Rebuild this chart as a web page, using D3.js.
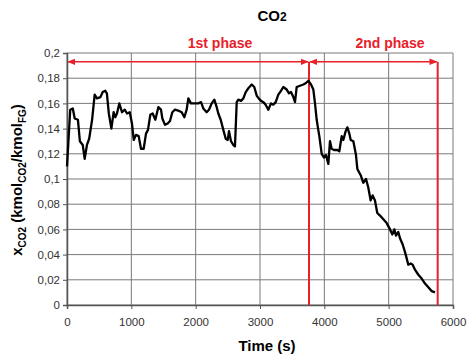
<!DOCTYPE html>
<html>
<head>
<meta charset="utf-8">
<script src="https://cdn.jsdelivr.net/npm/d3@7"></script>
<style>
  body { margin: 0; background: #fff; }
  svg { font-family: "Liberation Sans", Arial, sans-serif; }
</style>
</head>
<body>
<svg id="chart" width="468" height="359"></svg>
<script>
// time (s)
const time = [
  0, 50, 90, 120, 170, 200, 245, 275, 310, 345,
  390, 430, 465, 520, 555, 595, 620, 650, 690, 725,
  750, 777, 813, 855, 897, 933, 975, 1010, 1037, 1072,
  1114, 1150, 1192, 1228, 1259, 1295, 1332, 1373, 1420, 1461,
  1482, 1523, 1565, 1601, 1637, 1679, 1741, 1783, 1824, 1860,
  1886, 1927, 1990, 2041, 2083, 2119, 2171, 2207, 2249, 2290,
  2327, 2352, 2389, 2430, 2467, 2498, 2518, 2549, 2585, 2611,
  2638, 2663, 2705, 2741, 2778, 2819, 2871, 2911, 2950, 2980,
  3016, 3052, 3088, 3129, 3171, 3207, 3244, 3285, 3326, 3362,
  3415, 3451, 3482, 3518, 3544, 3570, 3622, 3673, 3710, 3751,
  3793, 3829, 3855, 3881, 3906, 3922, 3959, 3995, 4026, 4062,
  4088, 4114, 4150, 4202, 4233, 4270, 4295, 4332, 4358, 4389,
  4410, 4451, 4492, 4513, 4565, 4606, 4648, 4684, 4720, 4751,
  4787, 4823, 4865, 4917, 4969, 5021, 5057, 5088, 5114, 5150,
  5176, 5218, 5254, 5280, 5305, 5342, 5373, 5409, 5461, 5513,
  5565, 5616, 5669, 5720
];
// CO2 mole fraction
const xco2 = [
  0.110, 0.155, 0.156, 0.148, 0.147, 0.130, 0.127, 0.116, 0.127, 0.132,
  0.147, 0.167, 0.164, 0.165, 0.169, 0.170, 0.168, 0.152, 0.140, 0.153,
  0.149, 0.152, 0.160, 0.153, 0.155, 0.152, 0.153, 0.144, 0.131, 0.135,
  0.134, 0.124, 0.124, 0.136, 0.139, 0.151, 0.152, 0.147, 0.157, 0.155,
  0.148, 0.143, 0.144, 0.146, 0.153, 0.155, 0.154, 0.153, 0.149, 0.155,
  0.164, 0.160, 0.160, 0.160, 0.161, 0.156, 0.153, 0.155, 0.160, 0.163,
  0.157, 0.152, 0.147, 0.139, 0.132, 0.131, 0.138, 0.130, 0.127, 0.126,
  0.161, 0.163, 0.162, 0.164, 0.169, 0.172, 0.175, 0.173, 0.166, 0.164,
  0.162, 0.161, 0.159, 0.155, 0.160, 0.159, 0.161, 0.167, 0.170, 0.173,
  0.171, 0.168, 0.169, 0.165, 0.161, 0.173, 0.174, 0.175, 0.176, 0.178,
  0.175, 0.171, 0.160, 0.147, 0.139, 0.134, 0.120, 0.117, 0.119, 0.112,
  0.130, 0.124, 0.123, 0.123, 0.122, 0.134, 0.131, 0.138, 0.141, 0.136,
  0.131, 0.130, 0.119, 0.108, 0.103, 0.097, 0.100, 0.093, 0.083, 0.087,
  0.083, 0.073, 0.071, 0.068, 0.065, 0.060, 0.056, 0.060, 0.055, 0.058,
  0.053, 0.048, 0.042, 0.037, 0.032, 0.033, 0.032, 0.028, 0.024, 0.021,
  0.017, 0.014, 0.011, 0.010
];

const xTicks = [0, 1000, 2000, 3000, 4000, 5000, 6000];
const yTicks = [0, 0.02, 0.04, 0.06, 0.08, 0.1, 0.12, 0.14, 0.16, 0.18, 0.2];

// phase boundaries (s) and the level of the phase arrows
const phaseBounds = [0, 3762, 5762];
const phaseNames = ["1st phase", "2nd phase"];
const arrowLevel = 0.193;

const svg = d3.select("#chart");
const m = { left: 67, right: 15, top: 53, bottom: 54 };
const W = 468, H = 359;

let x = d3.scaleLinear().domain([0, 6000]).range([m.left, W - m.right]);
let y = d3.scaleLinear().domain([0, 0.2]).range([H - m.bottom, m.top]);

// arrow heads
const defs = svg.append("defs");
defs.append("marker")
  .attr("id", "arr")
  .attr("viewBox", "0 0 10 10")
  .attr("refX", 9).attr("refY", 5)
  .attr("markerWidth", 5).attr("markerHeight", 5)
  .attr("orient", "auto-start-reverse")
  .append("path").attr("d", "M0,1 L10,5 L0,9 z").attr("fill", "#e8202a");

// grid
svg.append("g")
  .selectAll("line.h")
  .data(yTicks)
  .enter().append("line")
  .attr("x1", x(0)).attr("x2", x(6000))
  .attr("y1", d => y(d)).attr("y2", d => y(d))
  .attr("stroke", "#7a7a7a").attr("stroke-width", 1);

svg.append("g")
  .selectAll("line.v")
  .data(xTicks)
  .enter().append("line")
  .attr("y1", y(0)).attr("y2", y(0.2))
  .attr("x1", d => x(d)).attr("x2", d => x(d))
  .attr("stroke", "#7a7a7a").attr("stroke-width", 1);

// axes
let xAxis = svg.append("g")
  .attr("transform", "translate(0," + y(0) + ")")
  .call(d3.axisBottom(x).tickValues(xTicks).tickSize(4).tickFormat(d3.format("d")));
let yAxis = svg.append("g")
  .attr("transform", "translate(" + x(0) + ",0)")
  .call(d3.axisLeft(y).tickValues(yTicks).tickSize(4)
    .tickFormat(d => d === 0 ? "0" : String(+d.toFixed(2)).replace(".", ",")));

[xAxis, yAxis].forEach(a => {
  a.select(".domain").attr("stroke", "#555").attr("stroke-width", 1.5);
  a.selectAll(".tick line").attr("stroke", "#555");
  a.selectAll("text").attr("fill", "#333").style("font-size", "11.5px")
    .style("font-family", "'Liberation Sans', Arial, sans-serif");
});
xAxis.selectAll("text").attr("dy", "1.25em");

// phase markers
svg.append("g")
  .selectAll("line")
  .data(phaseBounds.slice(1))
  .enter().append("line")
  .attr("x1", d => x(d)).attr("x2", d => x(d))
  .attr("y1", y(0)).attr("y2", y(arrowLevel))
  .attr("stroke", "#e8202a").attr("stroke-width", 2);

const phases = phaseNames.map((name, i) => ({ name: name, a: phaseBounds[i], b: phaseBounds[i + 1] }));

svg.append("g")
  .selectAll("line")
  .data(phases)
  .enter().append("line")
  .attr("x1", d => x(d.a) + 1).attr("x2", d => x(d.b) - 1)
  .attr("y1", y(arrowLevel)).attr("y2", y(arrowLevel))
  .attr("stroke", "#e8202a").attr("stroke-width", 1.6)
  .attr("marker-start", "url(#arr)")
  .attr("marker-end", "url(#arr)");

svg.append("g")
  .selectAll("text")
  .data(phases)
  .enter().append("text")
  .attr("x", (d, i) => i === 0 ? 220 : 390)
  .attr("y", 48)
  .attr("text-anchor", "middle")
  .attr("fill", "#e8202a")
  .style("font-size", "14px").style("font-weight", "bold")
  .text(d => d.name);

// data line
let line = d3.line()
  .x((d, i) => x(time[i]))
  .y(d => y(d));

svg.append("path")
  .datum(xco2)
  .attr("d", line)
  .attr("fill", "none")
  .attr("stroke", "#000")
  .attr("stroke-width", 2.3)
  .attr("stroke-linejoin", "round");

// title
let title = svg.append("text")
  .attr("x", 272).attr("y", 21)
  .attr("text-anchor", "middle")
  .style("font-size", "15px").style("font-weight", "bold");
title.append("tspan").text("CO");
title.append("tspan").style("font-size", "12px").text("2");

// x axis title
svg.append("text")
  .attr("x", 267).attr("y", 351)
  .attr("text-anchor", "middle")
  .style("font-size", "15px").style("font-weight", "bold")
  .text("Time (s)");

// y axis title with subscripts
let yt = svg.append("text")
  .attr("transform", "translate(22,180) rotate(-90)")
  .attr("text-anchor", "middle")
  .style("font-size", "15px").style("font-weight", "bold");
const parts = [
  ["x", false], ["CO2", true], [" (kmol", false], ["CO2", true], ["/kmol", false], ["FG", true], [")", false]
];
parts.forEach((p, i) => {
  const prevSub = i > 0 && parts[i - 1][1];
  yt.append("tspan")
    .attr("dy", p[1] ? 4 : (prevSub ? -4 : 0))
    .style("font-size", p[1] ? "10px" : "15px")
    .text(p[0]);
});
</script>
</body>
</html>
